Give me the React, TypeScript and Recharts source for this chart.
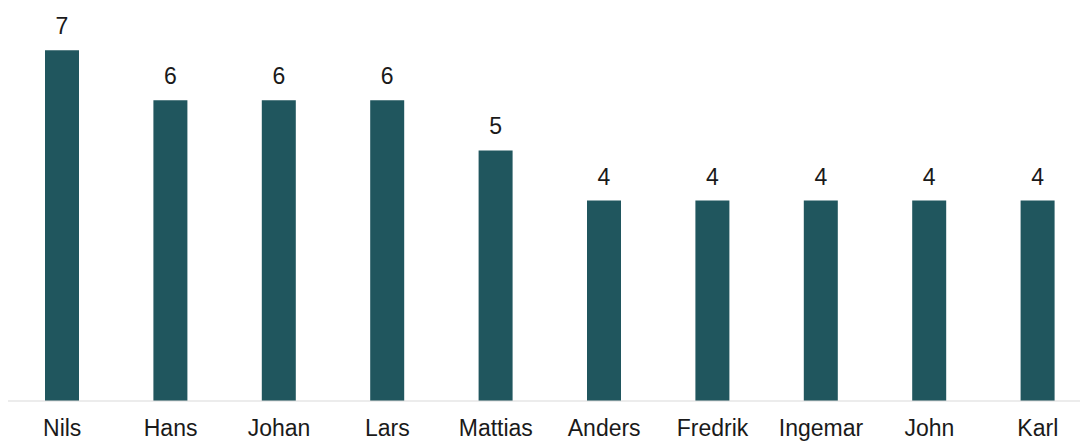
import React from "react";
import { Bar, BarChart, LabelList, XAxis, YAxis } from "recharts";

const names = ["Nils", "Hans", "Johan", "Lars", "Mattias", "Anders", "Fredrik", "Ingemar", "John", "Karl"];
const counts = [7, 6, 6, 6, 5, 4, 4, 4, 4, 4];

const data = names.map((name, i) => ({ name, count: counts[i] }));

const font = "'Liberation Sans', Arial, sans-serif";

export default function App() {
  return (
    <div style={{ position: "absolute", left: 0, top: 0, width: 1080, height: 441, overflow: "hidden", background: "#fff" }}>
      <BarChart width={1092} height={441} data={data} margin={{ top: 0, right: 0, left: 8, bottom: 0 }}>
        <XAxis
          dataKey="name"
          height={40}
          axisLine={{ stroke: "#d9d9d9" }}
          tickLine={false}
          tickSize={0}
          tickMargin={19}
          interval={0}
          tick={{ fill: "#1a1a1a", fontSize: 23, fontFamily: font }}
        />
        <YAxis hide domain={[0, 8]} />
        <Bar dataKey="count" fill="#20565e" barSize={34} isAnimationActive={false}>
          <LabelList dataKey="count" position="top" offset={16} fill="#1a1a1a" fontSize={23} fontFamily={font} />
        </Bar>
      </BarChart>
    </div>
  );
}
